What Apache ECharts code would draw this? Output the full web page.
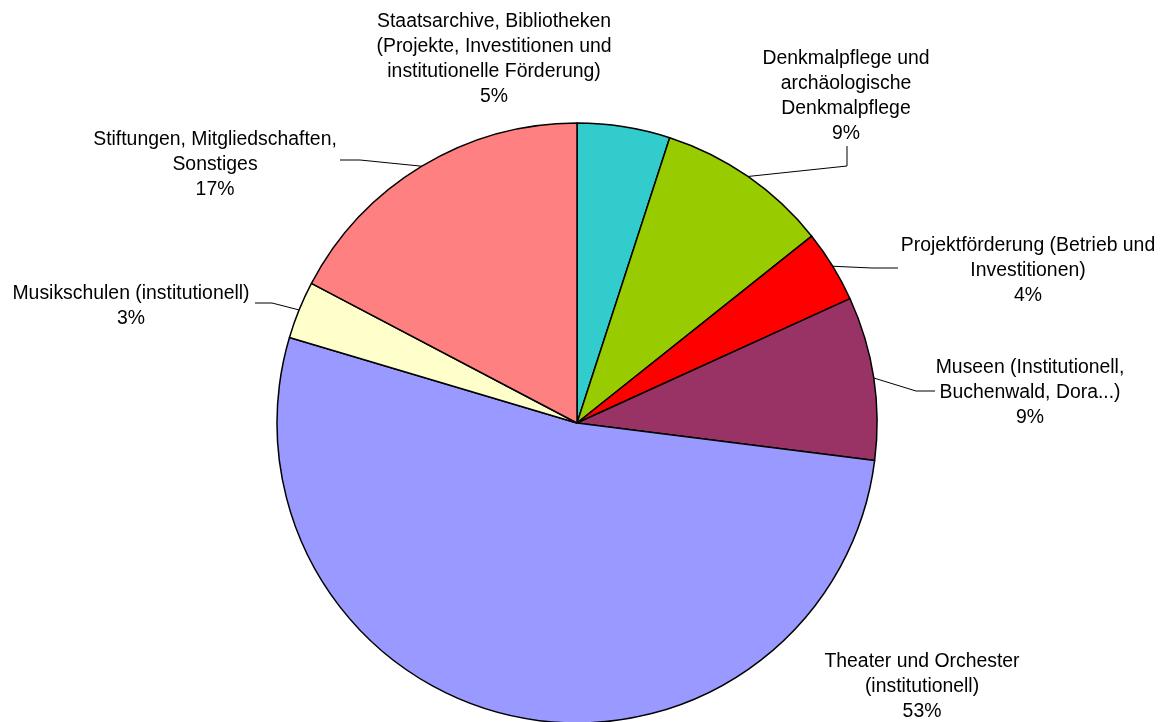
<!DOCTYPE html>
<html>
<head>
<meta charset="utf-8">
<script src="https://cdn.jsdelivr.net/npm/echarts@6/dist/echarts.min.js"></script>
<style>
  html, body { margin: 0; padding: 0; background: #fff; }
  #chart { width: 1165px; height: 722px; }
</style>
</head>
<body>
<div id="chart"></div>
<script>
var categories = [
    'Staatsarchive, Bibliotheken\n(Projekte, Investitionen und\ninstitutionelle Förderung)',
    'Denkmalpflege und\narchäologische\nDenkmalpflege',
    'Projektförderung (Betrieb und\nInvestitionen)',
    'Museen (Institutionell,\nBuchenwald, Dora...)',
    'Theater und Orchester\n(institutionell)',
    'Musikschulen (institutionell)',
    'Stiftungen, Mitgliedschaften,\nSonstiges'
];
var shares = [5.0, 9.3, 3.9, 8.8, 52.6, 3.1, 17.3];
var colors = ['#33CCCC', '#99CC00', '#FF0000', '#993366', '#9999FF', '#FFFFCC', '#FF8080'];

// label block centre + leader line (elbow, end), null = no line
var labelSpots = [
    {x: 494, y: 59, line: null},
    {x: 846, y: 96, line: [[847, 166], [847, 146]]},
    {x: 1028, y: 271, line: [[872, 268], [898, 268]]},
    {x: 1030, y: 393, line: [[916, 391], [935, 391]]},
    {x: 922, y: 687, line: null},
    {x: 131, y: 306, line: [[272, 303], [255, 303]]},
    {x: 215, y: 165, line: [[360, 160], [340, 160]]}
];

var pieData = [];
for (var i = 0; i < categories.length; i++) {
    pieData.push({
        name: categories[i],
        value: shares[i],
        itemStyle: {color: colors[i]}
    });
}

var chart = echarts.init(document.getElementById('chart'));
var option = {
    animation: false,
    series: [{
        type: 'pie',
        center: [577, 423],
        radius: 300,
        startAngle: 90,
        clockwise: true,
        avoidLabelOverlap: false,
        data: pieData,
        itemStyle: {
            borderColor: '#000',
            borderWidth: 1.5
        },
        emphasis: {disabled: true},
        label: {
            show: true,
            position: 'outside',
            color: '#000',
            fontFamily: '"Liberation Sans", Arial, sans-serif',
            fontSize: 19.4,
            lineHeight: 25,
            align: 'center',
            formatter: function (p) {
                return p.name + '\n' + Math.round(p.percent) + '%';
            }
        },
        labelLine: {
            show: true,
            lineStyle: {color: '#000', width: 1}
        },
        labelLayout: function (params) {
            var spot = labelSpots[params.dataIndex];
            var res = {
                x: spot.x,
                y: spot.y,
                align: 'center',
                verticalAlign: 'middle'
            };
            if (spot.line && params.labelLinePoints) {
                res.labelLinePoints = [params.labelLinePoints[0], spot.line[0], spot.line[1]];
            } else {
                res.labelLinePoints = [[0, 0], [0, 0], [0, 0]];
            }
            return res;
        }
    }]
};
chart.setOption(option);
</script>
</body>
</html>
